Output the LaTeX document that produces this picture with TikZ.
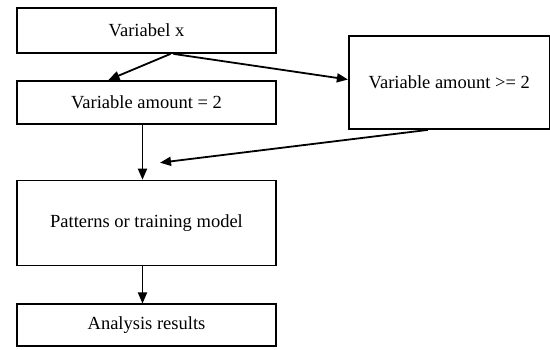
\documentclass[tikz,border=0pt]{standalone}
\usepackage{fontspec}
\setmainfont{Liberation Serif}
\usetikzlibrary{positioning,arrows.meta}

\begin{document}
\begin{tikzpicture}[x=1pt,y=-1pt,node distance=26pt,
  box/.style={draw,line width=1.8pt,minimum width=259pt,inner sep=2pt,
    font=\fontsize{18.5}{22}\selectfont},
  flow/.style={-{Triangle[length=11pt,width=9pt]},line width=1.8pt}]
  \useasboundingbox (0,0) rectangle (550,350);
  \node[box,minimum height=45pt] (varX) at (146.5,30.5) {Variabel x};
  \node[box,minimum height=43pt,below = of varX] (amountEq) {Variable amount = 2};
  \node[box,minimum width=201pt,minimum height=93pt,
    below right = 28pt and 71pt of varX.north east] (amountGe) {Variable amount >= 2};
  \node[box,minimum height=85pt,below = 55pt of amountEq] (patterns) {Patterns or training model};
  \node[box,minimum height=42pt,below = 37pt of patterns] (results) {Analysis results};
  \coordinate[below right = 38pt and 13.5pt of amountEq.south] (merge);
  \draw[flow] ([xshift=24pt]varX.south) -- ([xshift=-38pt]amountEq.north);
  \draw[flow] ([xshift=27pt]varX.south) -- ([yshift=3pt]amountGe.west);
  \draw[flow] ([xshift=-4pt]amountEq.south) -- ([xshift=-4pt]patterns.north);
  \draw[flow] ([xshift=-21.5pt]amountGe.south) -- (merge);
  \draw[flow] ([xshift=-4pt]patterns.south) -- ([xshift=-4pt]results.north);
\end{tikzpicture}
\end{document}
